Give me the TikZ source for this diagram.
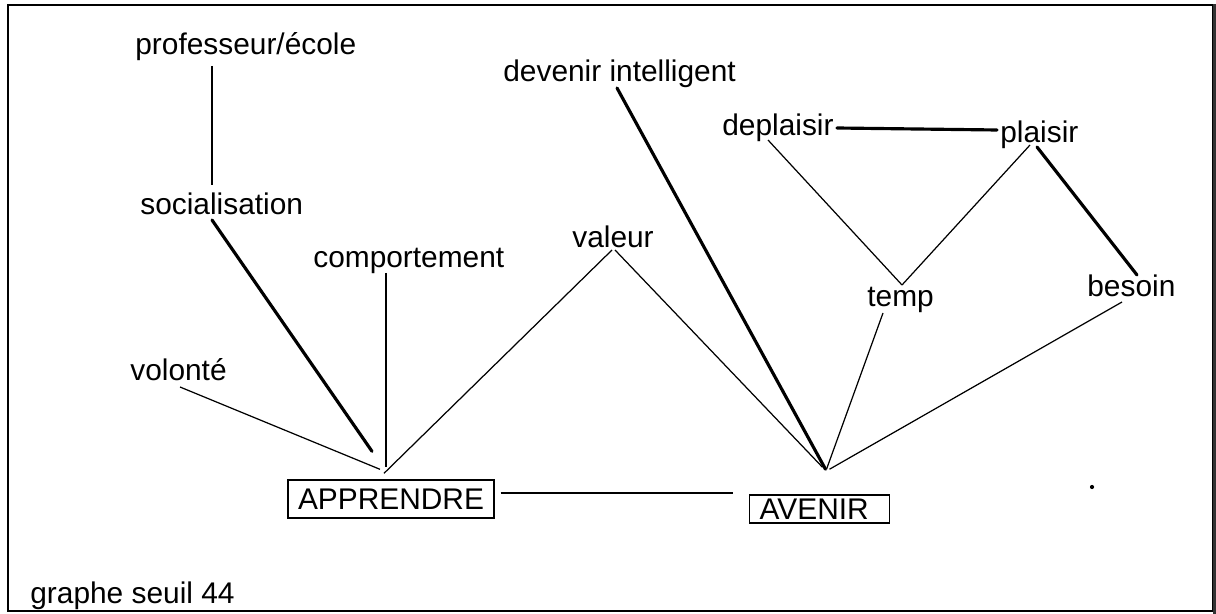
\documentclass[tikz,border=0pt]{standalone}
\usepackage{fontspec}
\setmainfont{Liberation Sans}
\usetikzlibrary{calc}
\tikzset{
  lbl/.style={anchor=base west, inner sep=0pt, font=\fontsize{17pt}{20pt}\selectfont},
  boite/.style={draw, line width=0.8pt, inner xsep=5.7pt, font=\fontsize{17pt}{20pt}\selectfont},
  weak/.style={line width=0.7pt},
  strong/.style={line width=1.8pt, line cap=round},
}
\begin{document}
\begin{tikzpicture}[x=0.02cm, y=-0.02cm]
      \useasboundingbox (0,0) rectangle (1216,614);
      \draw[line width=1pt] (8,5) rectangle (1213,611);
      \fill[black!80] (1213,4) rectangle (1216,614);
      \draw
        (135,55) node[lbl] (prof){professeur/école}
        (140,215) node[lbl] (soc){socialisation}
        (313,268) node[lbl] (comp){comportement}
        (130,381) node[lbl] (vol){volonté}
        (572,248) node[lbl] (val){valeur}
        (503,82) node[lbl] (dev){devenir intelligent}
        (722,136) node[lbl] (depl){deplaisir}
        (1000,143) node[lbl] (plai){plaisir}
        (867,307) node[lbl] (temp){temp}
        (1087,297) node[lbl] (bes){besoin}
        (30,603) node[lbl] (legende){graphe seuil 44};
      \node[boite, minimum height=21.6pt] (appr) at (391,499) {APPRENDRE};
      \node[boite, minimum height=16pt, inner ysep=1pt] (aven) at (819.5,509) {AVENIR\hspace*{6pt}};
      \coordinate (fa) at ($(appr.north)+(-6,-10)$);
      \coordinate (fv) at ($(aven.north)+(7,-25)$);
      \fill (1092,487) circle[radius=1.2pt];
      \begin{scope}[weak]
        \draw ($(prof.base west)+(77,11)$) to ($(soc.base west)+(72,-30)$);
        \draw ($(comp.base west)+(73,5)$) to ($(fa)+(1,-2)$);
        \draw ($(vol.base west)+(50,6)$) to ($(fa)+(-5,0)$);
        \draw ($(val.base west)+(40,2)$) to ($(fa)+(-1,4)$);
        \draw ($(val.base west)+(43,2)$) to ($(fv)+(-4,-2)$);
        \draw ($(temp.base west)+(16,6)$) to (fv);
        \draw ($(bes.base west)+(35,5)$) to ($(fv)+(3,0)$);
        \draw ($(depl.base west)+(46,4)$) to ($(temp.base west)+(35,-22)$);
        \draw ($(plai.base west)+(30,2)$) to ($(temp.base west)+(35,-22)$);
        \draw[line width=0.9pt] ($(appr.east)+(6,-6)$) to ($(aven.west)+(-16,-16)$);
      \end{scope}
      \begin{scope}[strong]
        \draw ($(soc.base west)+(72,5)$) to ($(fa)+(-13,-18)$);
        \draw ($(dev.base west)+(114,6)$) to ($(fv)+(-1,0)$);
        \draw ($(depl.base west)+(115,-8)$) to ($(plai.base west)+(-3,-13)$);
        \draw ($(plai.base west)+(37,4)$) to ($(bes.base west)+(50,-22)$);
      \end{scope}
    \end{tikzpicture}
\end{document}
